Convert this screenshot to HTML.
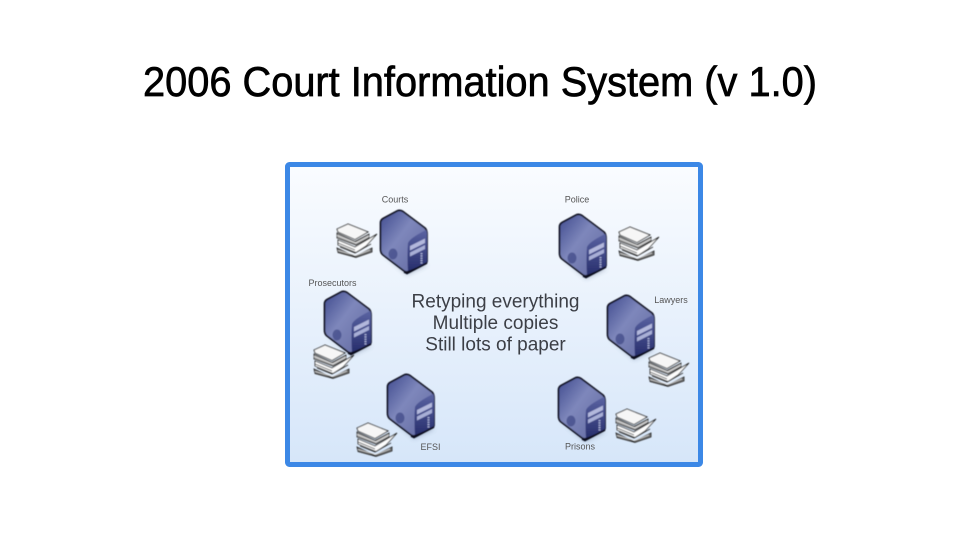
<!DOCTYPE html>
<html><head><meta charset="utf-8"><style>
html,body{margin:0;padding:0;background:#fff}
svg{display:block}
text{font-family:"Liberation Sans",sans-serif}
</style></head><body>
<svg width="960" height="540" viewBox="0 0 960 540" xmlns="http://www.w3.org/2000/svg">
<defs>
<linearGradient id="bg" x1="0" y1="0" x2="0" y2="1"><stop offset="0" stop-color="#fafcff"/><stop offset="1" stop-color="#d6e6f9"/></linearGradient>
<linearGradient id="front" x1="0" y1="0" x2="1" y2="1"><stop offset="0" stop-color="#3f4a8e"/><stop offset=".42" stop-color="#7e87bb"/><stop offset=".75" stop-color="#6d75ab"/><stop offset="1" stop-color="#5a629c"/></linearGradient>
<linearGradient id="side" x1="0" y1="0" x2="0" y2="1"><stop offset="0" stop-color="#5a63a2"/><stop offset="1" stop-color="#272e6c"/></linearGradient>
<filter id="b" x="-10%" y="-10%" width="120%" height="120%"><feGaussianBlur stdDeviation=".45"/></filter>
<filter id="s" x="-30%" y="-30%" width="160%" height="160%"><feGaussianBlur stdDeviation="2"/></filter>
<g id="srv">
<path d="M3 44L27 65L48 55Z" fill="#5a6a88" opacity=".4" filter="url(#s)"/>
<path d="M17 1Q20 -0.500 23 1.500L45 18Q47 20 47 24V51Q47 53 45 54L28 61.500Q26 62.500 24 61L3 45Q0.500 43 0.500 39V13Q0.500 10 3 8.500Z" fill="url(#front)" stroke="#0b0e1e" stroke-width="1.700" stroke-linejoin="round"/>
<path d="M46 20Q47 21 47 24V51Q47 53 45 54L28 61Q27 45 28 33Q30 28 46 20Z" fill="url(#side)"/>
<path d="M30 36L45 28.500V33L30 40.500Z" fill="#b2b8dc"/>
<path d="M30 42.500L45 35V39L30 46.500Z" fill="#a8afd6"/>
<path d="M41.500 43V54" stroke="#aab1d8" stroke-width="2" stroke-dasharray="1.300 1"/>
<ellipse cx="13" cy="44" rx="4.500" ry="5.500" fill="#3e4785" opacity=".7"/>
<path d="M24 62L27 63.500L47 53" fill="none" stroke="#0b0e1e" stroke-width="1.800"/>
</g>
<g id="pap">
<path d="M2 25L20 33.500L37 25V29L21 34.500L3 29.500Z" fill="#6a6a6a" stroke="#222" stroke-width=".8"/>
<path d="M3 27.500L21 32.500L35 27" fill="none" stroke="#ddd" stroke-width=".7"/>
<path d="M3 17L20 24L42 11L31 23L21 29.500L3 22Z" fill="#fdfdfd" stroke="#222" stroke-width=".9"/>
<path d="M3 20L20 27" stroke="#444" stroke-width=".8"/>
<path d="M2 10L20 18.500L34 11V15L21 22L2 15Z" fill="#999" stroke="#222" stroke-width=".8"/>
<path d="M2 12.500L21 20L34 13" fill="none" stroke="#fff" stroke-width=".6"/>
<path d="M2 6L13 1L33 9L20 16.500L3 9Z" fill="#f6f6f6" stroke="#1a1a1a" stroke-width=".9"/>
<path d="M5 24L20 30L36 21" fill="none" stroke="#333" stroke-width=".8"/>
</g>
</defs>
<text x="143" y="96" font-size="42" fill="#000" stroke="#000" stroke-width=".7" textLength="674" lengthAdjust="spacingAndGlyphs">2006 Court Information System (v 1.0)</text>
<rect x="287.500" y="164.500" width="413" height="300" rx="2" fill="url(#bg)" stroke="#3c88e6" stroke-width="5"/>
<g filter="url(#b)">
<use href="#srv" x="380" y="210"/>
<use href="#srv" x="559" y="214"/>
<use href="#srv" x="324" y="291"/>
<use href="#srv" x="607" y="295"/>
<use href="#srv" x="387" y="374"/>
<use href="#srv" x="558" y="377"/>
<use href="#pap" x="335" y="223"/>
<use href="#pap" x="617" y="226"/>
<use href="#pap" x="312" y="344"/>
<use href="#pap" x="647" y="352"/>
<use href="#pap" x="355" y="422"/>
<use href="#pap" x="614" y="408"/>
</g>
<g font-size="9" fill="#555" text-anchor="middle">
<text x="395" y="202.500">Courts</text>
<text x="577" y="202.500">Police</text>
<text x="332.500" y="286">Prosecutors</text>
<text x="671" y="303">Lawyers</text>
<text x="430.500" y="450">EFSI</text>
<text x="580" y="449.500">Prisons</text>
</g>
<g font-size="19" fill="#3c3f46" text-anchor="middle">
<text x="495.500" y="307.500">Retyping everything</text>
<text x="495.500" y="329">Multiple copies</text>
<text x="495.500" y="350.500">Still lots of paper</text>
</g>
</svg>
</body></html>
